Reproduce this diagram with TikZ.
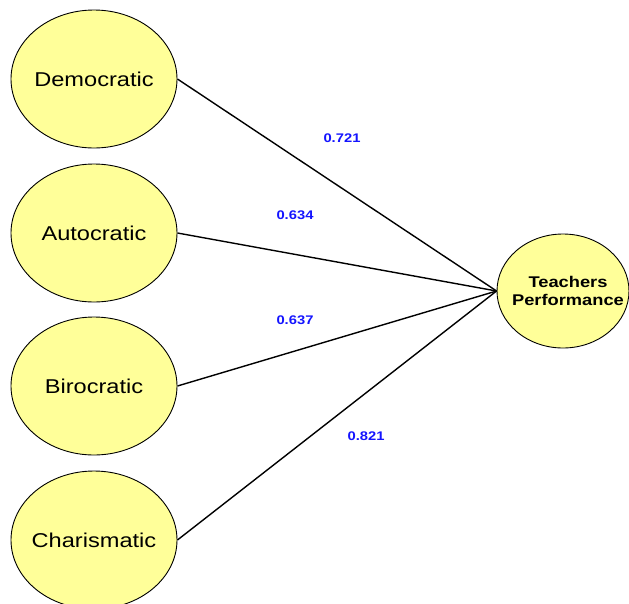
\documentclass[tikz,border=0pt]{standalone}
\usepackage{fontspec}
\setmainfont{Liberation Sans}[FakeStretch=1.18]
\usetikzlibrary{shapes.geometric}
\definecolor{nodefill}{HTML}{FFFF99}
\definecolor{coefblue}{HTML}{1414FF}
\begin{document}
\begin{tikzpicture}[x=1pt,y=-1pt,
  latent/.style={ellipse,draw=black,line width=0.9pt,fill=nodefill,inner sep=0pt,
    minimum width=166pt,minimum height=138pt},
  latenttext/.style={inner sep=0pt,font=\fontsize{20}{24}\selectfont},
  target/.style={ellipse,draw=black,line width=0.9pt,fill=nodefill,inner sep=0pt,
    minimum width=132pt,minimum height=114pt},
  targettext/.style={inner sep=0pt,align=center,font=\fontsize{15.5}{18}\selectfont\bfseries},
  link/.style={draw=black,line width=1.4pt},
  coef/.style={text=coefblue,font=\fontsize{12.5}{14}\selectfont\bfseries,inner sep=0pt}]
\useasboundingbox (0,0) rectangle (629,603);
\node[latent] (dem) at (94,79) {};
\node[latent] (aut) at (94,233) {};
\node[latent] (bir) at (94,386) {};
\node[latent] (cha) at (94,540) {};
\node[target] (tp) at (563,291) {};
\node[latenttext] (demt) at (dem.center) {Democratic};
\node[latenttext] (autt) at (aut.center) {Autocratic};
\node[latenttext] (birt) at (bir.center) {Birocratic};
\node[latenttext] (chat) at (cha.center) {Charismatic};
\node[targettext] (tpt) at ([xshift=5pt]tp.center) {Teachers\\Performance};
\draw[link] (dem.east) -- (tp.west);
\draw[link] (aut.east) -- (tp.west);
\draw[link] (bir.east) -- (tp.west);
\draw[link] (cha.east) -- (tp.west);
\node[coef] (c1) at (342,138) {0.721};
\node[coef] (c2) at (295,215) {0.634};
\node[coef] (c3) at (295,320) {0.637};
\node[coef] (c4) at (366,436) {0.821};
\end{tikzpicture}
\end{document}
